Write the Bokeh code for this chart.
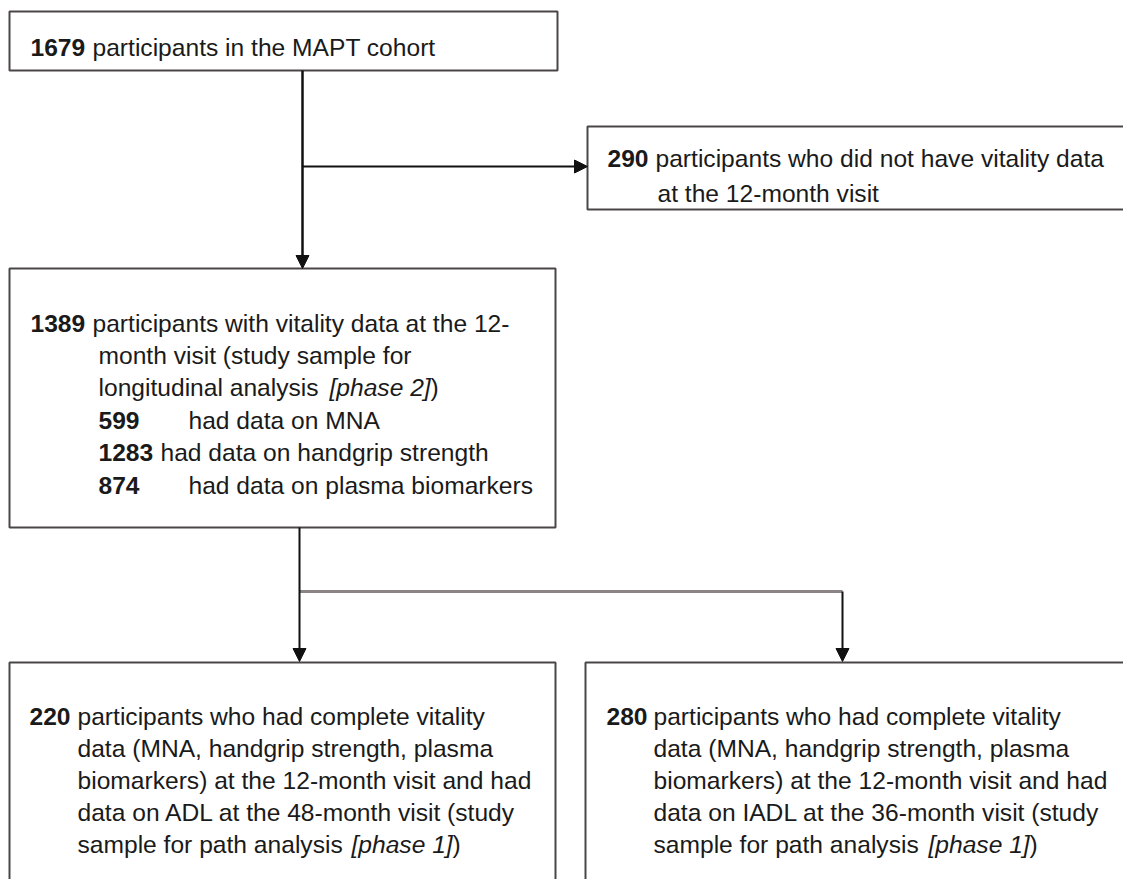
from bokeh.plotting import figure
from bokeh.models import Range1d, ColumnDataSource, Arrow, NormalHead
from bokeh.embed import file_html
from bokeh.resources import INLINE
from bokeh.core.properties import value

# ---- content ----
counts = ["1679", "290", "1389", "599", "1283", "874", "220", "280"]
box1_text = ["participants in the  MAPT cohort"]
box2_text = ["participants who did not have vitality data", "at the 12-month visit"]
box3_text = ["participants with vitality data at the 12-",
             "month visit (study sample for",
             "longitudinal analysis ",
             "had data on MNA",
             "had data on handgrip strength",
             "had data on plasma biomarkers"]
box4_text = ["participants who had complete vitality",
             "data (MNA, handgrip strength, plasma",
             "biomarkers) at the 12-month visit and had",
             "data on ADL at the 48-month visit (study",
             "sample for path analysis "]
box5_text = ["participants who had complete vitality",
             "data  (MNA, handgrip strength, plasma",
             "biomarkers) at the 12-month visit and had",
             "data on IADL at the 36-month visit (study",
             "sample for path analysis "]
phase_labels = ["[phase 2]", "[phase 1]", "[phase 1]"]

FONT = value("Liberation Sans")
FS = "24.6px"
TXT = "#1a1a1a"

p = figure(width=1123, height=879, output_backend="svg", toolbar_location=None,
           x_range=Range1d(0, 1123), y_range=Range1d(879, 0),
           min_border=0, tools="")
p.axis.visible = False
p.grid.visible = False
p.outline_line_color = None
p.background_fill_color = "white"

# boxes
boxes = dict(left=[9, 587, 9, 9, 585], right=[557, 1140, 555, 555, 1140],
             top=[11, 126, 268, 662, 662], bottom=[70, 209, 527, 900, 900])
p.quad(source=ColumnDataSource(boxes), left="left", right="right", top="top", bottom="bottom",
       fill_color=None, line_color="#4a4646", line_width=2)

# connector line without head
p.segment(x0=[299], y0=[591], x1=[842], y1=[591], line_color="#8a8584", line_width=3)

# arrows
for (xs, ys, xe, ye, w) in [(302, 70, 302, 268, 2.5), (302, 166, 587, 166, 2),
                            (299, 527, 299, 661, 2), (842, 591, 842, 661, 2)]:
    p.add_layout(Arrow(end=NormalHead(size=13, fill_color="#111111", line_color="#111111"),
                       x_start=xs, y_start=ys, x_end=xe, y_end=ye,
                       line_color="#111111", line_width=w))

bold = dict(x=[], y=[], t=[])
norm = dict(x=[], y=[], t=[])
ital = dict(x=[], y=[], t=[])

def add(d, x, y, t):
    d["x"].append(x); d["y"].append(y); d["t"].append(t)

# box 1
add(bold, 30, 47, counts[0]); add(norm, 92, 47, box1_text[0])
# box 2
add(bold, 607, 158, counts[1]); add(norm, 655, 158, box2_text[0])
add(norm, 657, 193, box2_text[1])
# box 3
b3y = [323, 355, 387, 420, 452, 485]
add(bold, 30, b3y[0], counts[2]); add(norm, 92, b3y[0], box3_text[0])
add(norm, 98, b3y[1], box3_text[1])
add(norm, 98, b3y[2], box3_text[2])
add(ital, 329, b3y[2], phase_labels[0]); add(norm, 430, b3y[2], ")")
add(bold, 98, b3y[3], counts[3]); add(norm, 188, b3y[3], box3_text[3])
add(bold, 98, b3y[4], counts[4]); add(norm, 160, b3y[4], box3_text[4])
add(bold, 98, b3y[5], counts[5]); add(norm, 188, b3y[5], box3_text[5])
# box 4 / 5
b4y = [716, 748, 780, 812, 844]
add(bold, 29, b4y[0], counts[6])
add(bold, 606, b4y[0], counts[7])
for i in range(5):
    add(norm, 77, b4y[i], box4_text[i])
    add(norm, 653, b4y[i], box5_text[i])
add(ital, 351, b4y[4], phase_labels[1]); add(norm, 452, b4y[4], ")")
add(ital, 928, b4y[4], phase_labels[2]); add(norm, 1029, b4y[4], ")")

for d, style in [(bold, "bold"), (norm, "normal"), (ital, "italic")]:
    p.text(x="x", y="y", text="t", source=ColumnDataSource(d), text_font=FONT,
           text_font_size=FS, text_font_style=style, text_color=TXT,
           text_baseline="alphabetic", text_align="left")

open("out.html", "w").write(file_html(p, INLINE))
